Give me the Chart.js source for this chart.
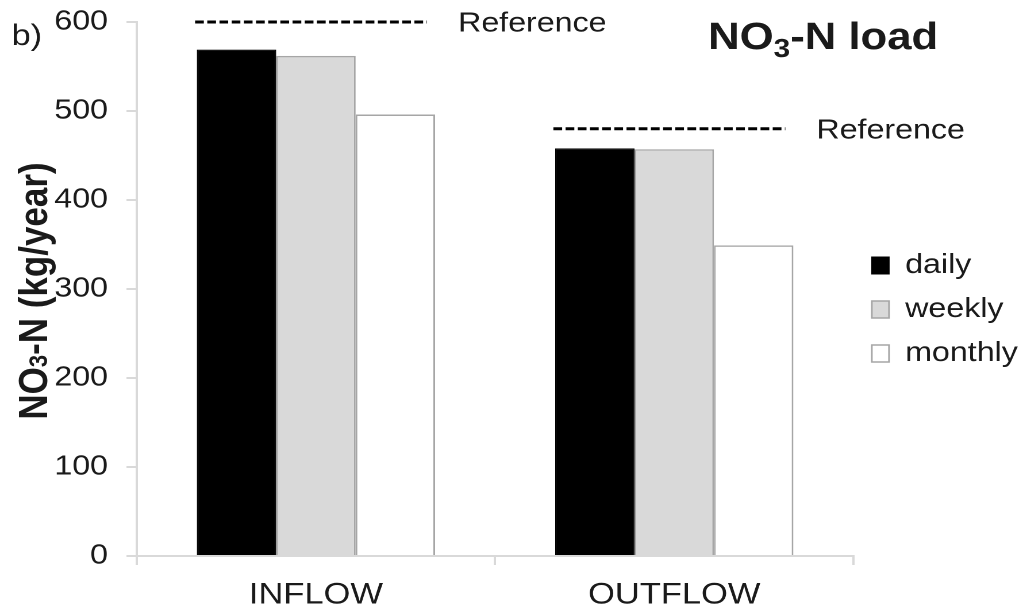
<!DOCTYPE html>
<html>
<head>
<meta charset="utf-8">
<script src="https://cdn.jsdelivr.net/npm/chart.js@4.4.1/dist/chart.umd.min.js"></script>
<style>
  html, body { margin: 0; padding: 0; background: #fff; overflow: hidden; }
  /* the figure is laid out on a narrower canvas and widened horizontally */
  #wrap { width: 890px; height: 611px; transform: scaleX(1.149438); transform-origin: 0 0; }
</style>
</head>
<body>
<div id="wrap"><canvas id="c" width="890" height="611"></canvas></div>
<script>
// NO3-N annual load (kg/year) by sampling frequency
const categories = ['INFLOW', 'OUTFLOW'];
const seriesNames = ['daily', 'weekly', 'monthly'];
const dailyLoad = [569, 458];
const weeklyLoad = [562, 457];
const monthlyLoad = [496, 349];
const referenceLoad = [600, 480];
const referenceLabel = 'Reference';
const yTicks = [0, 100, 200, 300, 400, 500, 600];
const panelLabel = 'b)';

const FONT = "'Liberation Sans', Arial, Helvetica, sans-serif";
const TEXT = '#1a1a1a';

// draws a run of text pieces, some of them as subscripts
function drawRich(ctx, parts, x, y, size, subSize, subDrop, weight) {
  let cx = x;
  parts.forEach(p => {
    const s = p.sub ? subSize : size;
    ctx.font = `${weight} ${s}px ${FONT}`;
    ctx.fillText(p.t, cx, y + (p.sub ? subDrop : 0));
    cx += ctx.measureText(p.t).width;
  });
  return cx - x;
}
function richWidth(ctx, parts, size, subSize, weight) {
  let w = 0;
  parts.forEach(p => {
    ctx.font = `${weight} ${p.sub ? subSize : size}px ${FONT}`;
    w += ctx.measureText(p.t).width;
  });
  return w;
}

const titleParts = [{ t: 'NO' }, { t: '3', sub: true }, { t: '-N load' }];
const yTitleParts = [{ t: 'NO' }, { t: '3', sub: true }, { t: '-N (kg/year)' }];

const annotations = {
  id: 'loadAnnotations',
  afterLayout(chart) {
    // let the category labels run to the bottom edge of the canvas
    chart.scales.x.bottom = chart.height;
  },
  afterDatasetsDraw(chart) {
    const { ctx, scales: { y } } = chart;
    const first = chart.getDatasetMeta(0);
    const last = chart.getDatasetMeta(chart.data.datasets.length - 1);
    ctx.save();
    // dashed reference level over each group
    referenceLoad.forEach((v, i) => {
      const b0 = first.data[i], b2 = last.data[i];
      const x0 = b0.x - b0.width / 2 - 1.5;
      const x1 = b2.x + b2.width / 2 - 7;
      const yy = y.getPixelForValue(v);
      ctx.setLineDash([7.6, 3]);
      ctx.lineWidth = 3;
      ctx.strokeStyle = '#000';
      ctx.beginPath();
      ctx.moveTo(x0, yy);
      ctx.lineTo(x1, yy);
      ctx.stroke();
      ctx.setLineDash([]);
      ctx.font = `28px ${FONT}`;
      ctx.fillStyle = TEXT;
      ctx.textAlign = 'left';
      ctx.textBaseline = 'middle';
      ctx.fillText(referenceLabel, x1 + 27, yy + 2);
    });
    ctx.restore();
  },
  afterDraw(chart) {
    const { ctx, chartArea } = chart;
    ctx.save();
    ctx.fillStyle = TEXT;
    ctx.textAlign = 'left';
    ctx.textBaseline = 'alphabetic';
    // panel letter
    ctx.font = `30px ${FONT}`;
    ctx.fillText(panelLabel, 10, 45);
    // chart title
    drawRich(ctx, titleParts, 616, 49, 38, 26, 8, 'bold');
    // value axis title, rotated
    const w = richWidth(ctx, yTitleParts, 35, 22, 'bold');
    const cy = (chartArea.top + chartArea.bottom) / 2 + 2;
    ctx.translate(41, cy);
    ctx.rotate(-Math.PI / 2);
    drawRich(ctx, yTitleParts, -w / 2, 0, 35, 22, 0, 'bold');
    ctx.restore();
  }
};

const ctx = document.getElementById('c').getContext('2d');
new Chart(ctx, {
  type: 'bar',
  data: {
    labels: categories,
    datasets: [
      { label: seriesNames[0], data: dailyLoad, backgroundColor: '#000000', borderColor: '#000000', borderWidth: 1 },
      { label: seriesNames[1], data: weeklyLoad, backgroundColor: '#d9d9d9', borderColor: '#a6a6a6', borderWidth: 1.5 },
      { label: seriesNames[2], data: monthlyLoad, backgroundColor: '#ffffff', borderColor: '#a6a6a6', borderWidth: 1.5 }
    ]
  },
  options: {
    responsive: false,
    animation: false,
    devicePixelRatio: 2,
    layout: { padding: { top: 22, left: 0, right: -5.5, bottom: 14 } },
    datasets: { bar: { categoryPercentage: 0.665, barPercentage: 1.0 } },
    plugins: {
      legend: {
        position: 'right',
        align: 'center',
        labels: {
          boxWidth: 15,
          boxHeight: 17,
          padding: 16,
          color: TEXT,
          font: { family: FONT, size: 28 }
        }
      },
      tooltip: { enabled: false },
      title: { display: false }
    },
    scales: {
      x: {
        grid: { drawOnChartArea: false, drawTicks: true, tickLength: 9, color: '#d9d9d9', lineWidth: 2, offset: true },
        border: { color: '#d9d9d9', width: 2 },
        ticks: { color: TEXT, font: { family: FONT, size: 30 }, padding: 12 },
        afterFit: s => { s.height = 41; }
      },
      y: {
        min: 0,
        max: 600,
        grid: { drawOnChartArea: false, drawTicks: true, tickLength: 9, color: '#d9d9d9', lineWidth: 2 },
        border: { color: '#d9d9d9', width: 2 },
        ticks: { color: TEXT, font: { family: FONT, size: 28 }, padding: 16 },
        afterBuildTicks: s => { s.ticks = yTicks.map(v => ({ value: v })); },
        afterFit: s => { s.width = 119; s.paddingTop = 0; s.paddingBottom = 0; }
      }
    }
  },
  plugins: [annotations]
});
</script>
</body>
</html>
